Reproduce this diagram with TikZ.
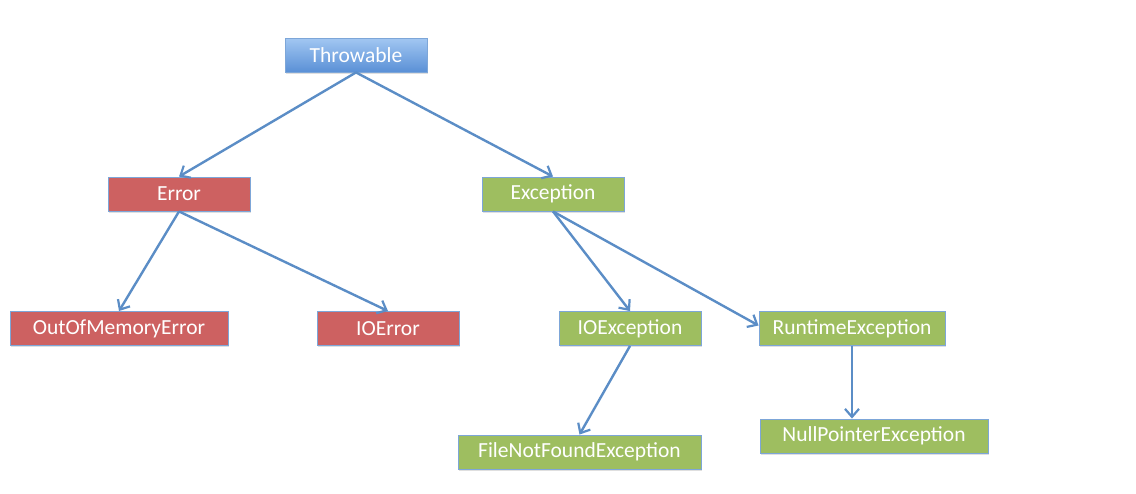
\documentclass[tikz,border=0pt]{standalone}
\usepackage{fontspec}
\setmainfont{Carlito}
\usepackage{xcolor}
\usetikzlibrary{arrows.meta,shadows}

\definecolor{errred}{HTML}{CD6161}
\definecolor{excgreen}{HTML}{9EBE60}
\definecolor{rimblue}{HTML}{7DA6D8}
\definecolor{linkblue}{HTML}{5B8DC6}
\definecolor{rootlight}{HTML}{A2C7F2}
\definecolor{rootdark}{HTML}{5A90D6}

\begin{document}
\begin{tikzpicture}[x=1pt,y=-1pt,
    box/.style={rectangle, draw=rimblue, line width=0.9pt, text=white,
      minimum height=34pt, inner sep=0pt,
      font=\fontsize{21.5}{25}\selectfont,
      drop shadow={shadow xshift=1pt, shadow yshift=-1.5pt, opacity=0.25}},
    errbox/.style={box, fill=errred},
    excbox/.style={box, fill=excgreen},
    rootbox/.style={box, top color=rootlight, bottom color=rootdark},
    link/.style={draw=linkblue, line width=2.4pt,
      -{Straight Barb[length=8pt,width=14pt,line width=2.2pt]}}]
    \useasboundingbox (0,0) rectangle (1136,493);
    % boxes
    \node[rootbox, minimum width=142pt] (thr) at (356,55) {Throwable};
    \node[errbox, minimum width=142pt] (err) at (179,194) {Error};
    \node[excbox, minimum width=142pt] (exc) at (553,194) {Exception};
    \node[errbox, minimum width=218pt] (oom) at (119,328.5) {OutOfMemoryError};
    \node[errbox, minimum width=142pt] (ioerr) at (388,328.5) {IOError};
    \node[excbox, minimum width=142pt] (ioexc) at (630,328.5) {IOException};
    \node[excbox, minimum width=186pt] (rt) at (852,328.5) {RuntimeException};
    \node[excbox, minimum width=243pt] (fnf) at (579.5,452) {FileNotFoundException};
    \node[excbox, minimum width=228pt] (npe) at (874,436) {NullPointerException};
    % links
    \draw[link] (thr.south) -- (err.north);
    \draw[link] (thr.south) -- (exc.north);
    \draw[link] (err.south) -- (oom.north);
    \draw[link] (err.south) -- (ioerr.north);
    \draw[link] (exc.south) -- (ioexc.north);
    \draw[link] (exc.south) -- ([yshift=3pt]rt.west);
    \draw[link] (ioexc.south) -- (fnf.north);
    \draw[link] (rt.south) -- (rt.south |- npe.north);
\end{tikzpicture}
\end{document}
